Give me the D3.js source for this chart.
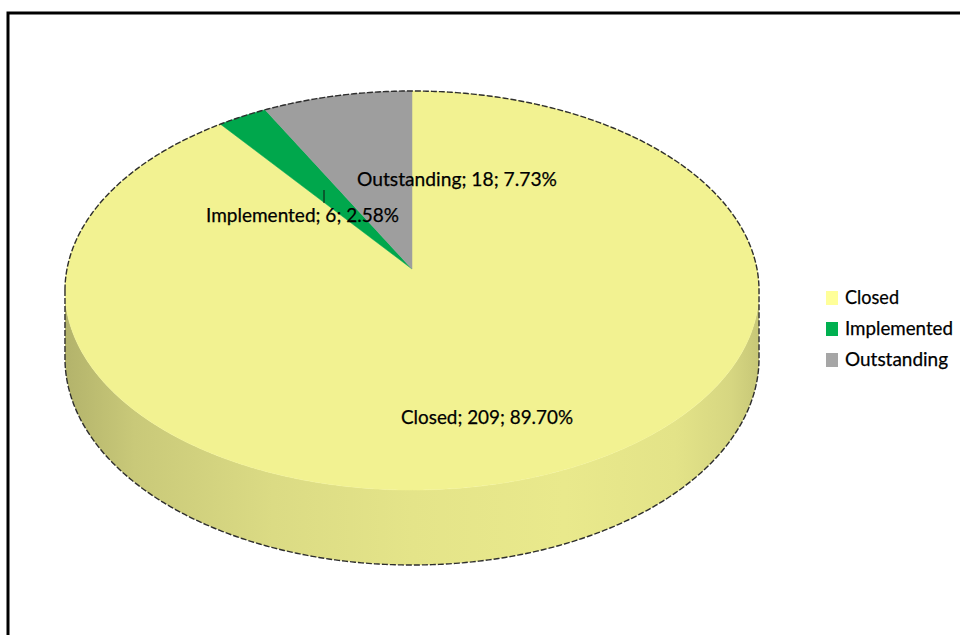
<!DOCTYPE html>
<html>
<head>
<meta charset="utf-8">
<script src="https://cdn.jsdelivr.net/npm/d3@7"></script>
<style>
  html, body { margin: 0; padding: 0; background: #fff; }
  svg { display: block; }
</style>
</head>
<body>
<svg id="chart" width="960" height="635"></svg>
<script>
// ---- data ----
const categories = ["Closed", "Implemented", "Outstanding"];
const values = [209, 6, 18];
const seriesColors = ["#FFFF99", "#00B050", "#A6A6A6"];

// ---- layout ----
const W = 960, H = 635;
const cx = 412, apexY = 269;     // projected pie centre
const rx = 345;                   // horizontal radius
const bY = -168.2;                // vertical radius factor
const persp = 0.1078;             // perspective factor
const depth = 66.9;               // thickness
const labelFont = "Lato, 'Open Sans', sans-serif";
const labelSize = 20;
// label placement relative to pie centre, and target text widths
const labelOffsets = [[-11, 155], [-206, -47], [-55, -83]];
const labelWidths = [172, 193, 200];
const legendX = 826, legendY = 291, legendStep = 31;
const legendWidths = [54, 108, 103];

const svg = d3.select("#chart");

// frame
svg.append("rect").attr("x", 8).attr("y", 13)
  .attr("width", W + 20).attr("height", H + 20)
  .attr("fill", "none").attr("stroke", "#000").attr("stroke-width", 3);

const total = d3.sum(values);
const arcs = d3.pie().sort(null).value(d => d)(values);

function proj(a, f, z) {
  const u = f * Math.sin(a), v = f * Math.cos(a);
  const den = 1 + persp * v;
  return [cx + rx * u / den, (apexY + bY * v + depth * z) / den];
}
function rim(a0, a1, z) {
  const pts = [];
  const steps = Math.max(2, Math.ceil(Math.abs(a1 - a0) / (Math.PI / 360)));
  for (let i = 0; i <= steps; i++) pts.push(proj(a0 + (a1 - a0) * i / steps, 1, z));
  return pts;
}
const line = d3.line();

function shade(col, k) {
  const c = d3.rgb(col);
  return d3.rgb(c.r * k, c.g * k, c.b * k).formatHex();
}

// visible side range
const aR = Math.atan2(Math.sqrt(1 - persp * persp), -persp);
const aL = 2 * Math.PI - aR;
const xLeft = proj(aL, 1, 0)[0], xRight = proj(aR, 1, 0)[0];

const defs = svg.append("defs");
const sideStops = [[0, 0.70], [0.1, 0.79], [0.3, 0.86], [0.5, 0.895], [0.72, 0.915], [0.88, 0.89], [0.96, 0.84], [1, 0.78]];
arcs.forEach((d, i) => {
  const g = defs.append("linearGradient").attr("id", "side" + i)
    .attr("gradientUnits", "userSpaceOnUse")
    .attr("x1", xLeft).attr("x2", xRight).attr("y1", 0).attr("y2", 0);
  sideStops.forEach(s => g.append("stop").attr("offset", s[0]).attr("stop-color", shade(seriesColors[i], s[1])));
});

// side faces
const sideG = svg.append("g");
arcs.forEach((d, i) => {
  const s = Math.max(d.startAngle, aR), e = Math.min(d.endAngle, aL);
  if (e <= s) return;
  const top = rim(s, e, 0), bot = rim(e, s, 1);
  sideG.append("path").attr("d", line(top.concat(bot)) + "Z")
    .attr("fill", "url(#side" + i + ")");
});

// top faces
const topG = svg.append("g");
arcs.forEach((d, i) => {
  const pts = [proj(0, 0, 0)].concat(rim(d.startAngle, d.endAngle, 0));
  topG.append("path").attr("d", line(pts) + "Z")
    .attr("fill", shade(seriesColors[i], 0.95))
    .attr("stroke", shade(seriesColors[i], 0.95)).attr("stroke-width", 0.5);
});

// silhouette outline
const outline = rim(aL, aR + 2 * Math.PI, 0).concat(rim(aR, aL, 1));
svg.append("path").attr("d", line(outline) + "Z")
  .attr("fill", "none").attr("stroke", "#2e2e2e").attr("stroke-width", 1.4)
  .attr("stroke-dasharray", "6,2");

// data labels
const labG = svg.append("g");
arcs.forEach((d, i) => {
  const pct = (values[i] / total * 100).toFixed(2);
  const [ox, oy] = labelOffsets[i];
  labG.append("text")
    .attr("x", cx + ox).attr("y", apexY + oy)
    .attr("font-family", labelFont).attr("font-size", labelSize)
    .attr("fill", "#000").attr("stroke", "#000").attr("stroke-width", 0.25)
    .attr("textLength", labelWidths[i]).attr("lengthAdjust", "spacingAndGlyphs")
    .text(`${categories[i]}; ${values[i]}; ${pct}%`);
});
// leader tick for the Implemented label
{
  const [ox, oy] = labelOffsets[1];
  labG.append("line")
    .attr("x1", cx + ox + 118).attr("x2", cx + ox + 118)
    .attr("y1", apexY + oy - 32).attr("y2", apexY + oy - 19)
    .attr("stroke", "#111").attr("stroke-width", 1);
}

// legend
const leg = svg.append("g");
categories.forEach((c, i) => {
  const y = legendY + i * legendStep;
  leg.append("rect").attr("x", legendX).attr("y", y).attr("width", 12).attr("height", 14)
    .attr("fill", seriesColors[i]);
  leg.append("text").attr("x", legendX + 19).attr("y", y + 12.5)
    .attr("font-family", labelFont).attr("font-size", labelSize)
    .attr("fill", "#000").attr("stroke", "#000").attr("stroke-width", 0.25)
    .attr("textLength", legendWidths[i]).attr("lengthAdjust", "spacingAndGlyphs")
    .text(c);
});
</script>
</body>
</html>
